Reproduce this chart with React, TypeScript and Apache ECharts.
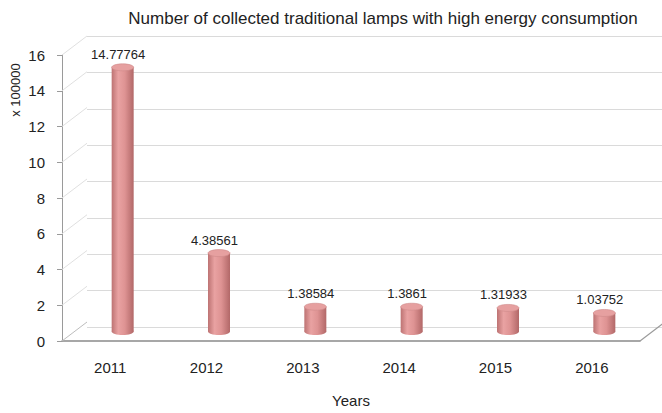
import React, { useEffect, useRef } from "react";
import * as echarts from "echarts";

const titleText = "Number of collected traditional lamps with high energy consumption";
const years = ["2011", "2012", "2013", "2014", "2015", "2016"];
const lampCounts = [14.77764, 4.38561, 1.38584, 1.3861, 1.31933, 1.03752];
const yTickValues = [0, 2, 4, 6, 8, 10, 12, 14, 16];
const yAxisTitle = "x 100000";
const xAxisTitle = "Years";

const FONT = "'Liberation Sans', Arial, sans-serif";
const DEPTH_X = 25;
const DEPTH_Y = 19;
const GRID_LEFT = 62;
const GRID_TOP = 55;
const GRID_W = 578;
const GRID_H = 291;

export default function App() {
  const ref = useRef<HTMLDivElement>(null);
  useEffect(() => {
    if (!ref.current) return;
    const chart = echarts.init(ref.current, null, { renderer: "svg" });
    const barGrad = () =>
      new echarts.graphic.LinearGradient(0, 0, 1, 0, [
        { offset: 0, color: "#bd7373" },
        { offset: 0.3, color: "#e9a2a2" },
        { offset: 0.6, color: "#de9393" },
        { offset: 1, color: "#b26868" },
      ]);
    const option: any = {
      animation: false,
      backgroundColor: "#ffffff",
      textStyle: { fontFamily: FONT },
      grid: [
        { left: GRID_LEFT, top: GRID_TOP, width: GRID_W, height: GRID_H },
        { left: GRID_LEFT + DEPTH_X, top: GRID_TOP - DEPTH_Y, width: GRID_W, height: GRID_H },
      ],
      xAxis: [
        {
          type: "category",
          gridIndex: 0,
          data: years,
          axisLine: { lineStyle: { color: "#8a8a8a", width: 1.5 } },
          axisTick: { show: false },
          axisLabel: { color: "#222", fontSize: 15, margin: 19, fontFamily: FONT },
          name: xAxisTitle,
          nameLocation: "middle",
          nameGap: 52,
          nameTextStyle: { color: "#222", fontSize: 15, fontFamily: FONT },
        },
        {
          type: "category",
          gridIndex: 1,
          data: years,
          show: false,
        },
      ],
      yAxis: [
        {
          type: "value",
          gridIndex: 0,
          min: 0,
          max: 16,
          interval: 2,
          axisLine: { show: true, lineStyle: { color: "#9a9a9a" } },
          axisTick: { show: true, length: 5, lineStyle: { color: "#9a9a9a" } },
          axisLabel: { color: "#222", fontSize: 15, margin: 17, fontFamily: FONT },
          splitLine: { show: false },
        },
        {
          type: "value",
          gridIndex: 1,
          min: 0,
          max: 16,
          interval: 2,
          axisLine: { show: false },
          axisTick: { show: false },
          axisLabel: { show: false },
          splitLine: { show: true, lineStyle: { color: "#dadada", width: 1 } },
        },
      ],
      graphic: [
        {
          type: "text",
          x: 383,
          y: 18,
          style: {
            text: titleText,
            fill: "#222",
            font: `17px ${FONT}`,
            textAlign: "center",
            textVerticalAlign: "middle",
          },
        },
        {
          type: "text",
          x: 15,
          y: 90,
          rotation: Math.PI / 2,
          style: {
            text: yAxisTitle,
            fill: "#222",
            font: `13px ${FONT}`,
            textAlign: "center",
            textVerticalAlign: "middle",
          },
        },
      ],
      series: [
        {
          type: "custom",
          xAxisIndex: 0,
          yAxisIndex: 0,
          silent: true,
          z: 1,
          data: yTickValues.map((v) => [0, v]),
          renderItem: (params: any, api: any) => {
            const v = api.value(1);
            const y = api.coord([0, v])[1];
            const cs = params.coordSys;
            const children: any[] = [
              {
                type: "line",
                shape: { x1: cs.x, y1: y, x2: cs.x + DEPTH_X, y2: y - DEPTH_Y },
                style: { stroke: v === 0 ? "#bdbdbd" : "#e0e0e0", lineWidth: 1 },
              },
            ];
            if (v === 0) {
              children.push({
                type: "line",
                shape: {
                  x1: cs.x + cs.width,
                  y1: y,
                  x2: cs.x + cs.width + DEPTH_X,
                  y2: y - DEPTH_Y,
                },
                style: { stroke: "#9a9a9a", lineWidth: 1.2 },
              });
            }
            return { type: "group", children };
          },
        },
        {
          type: "custom",
          xAxisIndex: 0,
          yAxisIndex: 0,
          z: 3,
          data: lampCounts.map((v, i) => [i, v]),
          renderItem: (params: any, api: any) => {
            const i = api.value(0);
            const v = api.value(1);
            const base = api.coord([i, 0]);
            const top = api.coord([i, v]);
            const cx = base[0] + DEPTH_X / 2;
            const by = base[1] - DEPTH_Y / 2;
            const ty = top[1] - DEPTH_Y / 2;
            const r = 11;
            const ry = 3.5;
            return {
              type: "group",
              children: [
                {
                  type: "rect",
                  shape: { x: cx - r, y: ty, width: 2 * r, height: by - ty },
                  style: { fill: barGrad() },
                },
                {
                  type: "ellipse",
                  shape: { cx, cy: by, rx: r, ry },
                  style: { fill: barGrad() },
                },
                {
                  type: "ellipse",
                  shape: { cx, cy: ty, rx: r, ry },
                  style: { fill: "#e6a0a0", stroke: "#cf8a8a", lineWidth: 0.6 },
                },
                {
                  type: "text",
                  x: base[0] + 8,
                  y: ty - 13,
                  style: {
                    text: String(v),
                    fill: "#222",
                    font: `13px ${FONT}`,
                    textAlign: "center",
                    textVerticalAlign: "middle",
                  },
                },
              ],
            };
          },
        },
      ],
    };
    chart.setOption(option);
    return () => chart.dispose();
  }, []);
  return (
    <div
      ref={ref}
      style={{ position: "fixed", left: 0, top: 0, width: 662, height: 413, background: "#fff" }}
    />
  );
}
